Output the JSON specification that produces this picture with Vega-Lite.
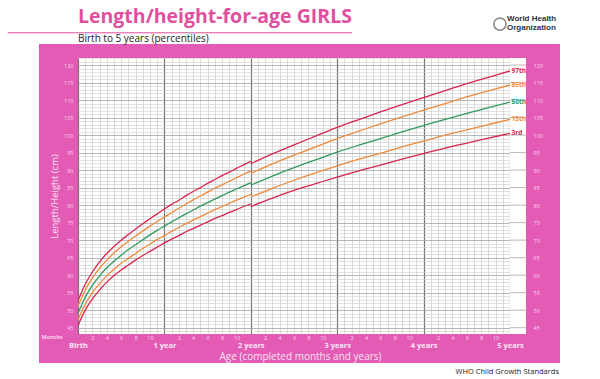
{
  "$schema": "https://vega.github.io/schema/vega-lite/v6.json",
  "autosize": "none",
  "width": 432,
  "height": 276,
  "padding": {"left": 78, "top": 58, "right": 90, "bottom": 45},
  "background": "#e35bb5",
  "config": {
    "view": {"fill": "white", "stroke": null},
    "font": "Open Sans",
    "axis": {"labelFont": "Open Sans", "titleFont": "Open Sans"}
  },
  "title": {
    "text": "Length/height-for-age GIRLS",
    "subtitle": "Birth to 5 years (percentiles)",
    "anchor": "start",
    "frame": "group",
    "offset": -50,
    "font": "Open Sans",
    "fontSize": 19.5,
    "fontWeight": "bold",
    "color": "#e0509e",
    "subtitleFont": "Open Sans",
    "subtitleFontSize": 10,
    "subtitleColor": "#222222",
    "subtitlePadding": 6
  },
  "datasets": {
    "curves": [
      {"m":0,"s":"L","p":"3rd","v":45.6},{"m":0,"s":"L","p":"15th","v":47.2},{"m":0,"s":"L","p":"50th","v":49.1},{"m":0,"s":"L","p":"85th","v":51.1},{"m":0,"s":"L","p":"97th","v":52.7},
      {"m":1,"s":"L","p":"3rd","v":50.0},{"m":1,"s":"L","p":"15th","v":51.7},{"m":1,"s":"L","p":"50th","v":53.7},{"m":1,"s":"L","p":"85th","v":55.7},{"m":1,"s":"L","p":"97th","v":57.4},
      {"m":2,"s":"L","p":"3rd","v":53.2},{"m":2,"s":"L","p":"15th","v":55.0},{"m":2,"s":"L","p":"50th","v":57.1},{"m":2,"s":"L","p":"85th","v":59.2},{"m":2,"s":"L","p":"97th","v":60.9},
      {"m":3,"s":"L","p":"3rd","v":55.8},{"m":3,"s":"L","p":"15th","v":57.6},{"m":3,"s":"L","p":"50th","v":59.8},{"m":3,"s":"L","p":"85th","v":62.0},{"m":3,"s":"L","p":"97th","v":63.8},
      {"m":4,"s":"L","p":"3rd","v":58.0},{"m":4,"s":"L","p":"15th","v":59.8},{"m":4,"s":"L","p":"50th","v":62.1},{"m":4,"s":"L","p":"85th","v":64.3},{"m":4,"s":"L","p":"97th","v":66.2},
      {"m":5,"s":"L","p":"3rd","v":59.9},{"m":5,"s":"L","p":"15th","v":61.7},{"m":5,"s":"L","p":"50th","v":64.0},{"m":5,"s":"L","p":"85th","v":66.3},{"m":5,"s":"L","p":"97th","v":68.2},
      {"m":6,"s":"L","p":"3rd","v":61.5},{"m":6,"s":"L","p":"15th","v":63.4},{"m":6,"s":"L","p":"50th","v":65.7},{"m":6,"s":"L","p":"85th","v":68.1},{"m":6,"s":"L","p":"97th","v":70.0},
      {"m":7,"s":"L","p":"3rd","v":62.9},{"m":7,"s":"L","p":"15th","v":64.8},{"m":7,"s":"L","p":"50th","v":67.3},{"m":7,"s":"L","p":"85th","v":69.7},{"m":7,"s":"L","p":"97th","v":71.6},
      {"m":8,"s":"L","p":"3rd","v":64.3},{"m":8,"s":"L","p":"15th","v":66.2},{"m":8,"s":"L","p":"50th","v":68.7},{"m":8,"s":"L","p":"85th","v":71.2},{"m":8,"s":"L","p":"97th","v":73.2},
      {"m":9,"s":"L","p":"3rd","v":65.6},{"m":9,"s":"L","p":"15th","v":67.6},{"m":9,"s":"L","p":"50th","v":70.1},{"m":9,"s":"L","p":"85th","v":72.6},{"m":9,"s":"L","p":"97th","v":74.7},
      {"m":10,"s":"L","p":"3rd","v":66.8},{"m":10,"s":"L","p":"15th","v":68.9},{"m":10,"s":"L","p":"50th","v":71.5},{"m":10,"s":"L","p":"85th","v":74.0},{"m":10,"s":"L","p":"97th","v":76.1},
      {"m":11,"s":"L","p":"3rd","v":68.0},{"m":11,"s":"L","p":"15th","v":70.2},{"m":11,"s":"L","p":"50th","v":72.8},{"m":11,"s":"L","p":"85th","v":75.3},{"m":11,"s":"L","p":"97th","v":77.5},
      {"m":12,"s":"L","p":"3rd","v":69.2},{"m":12,"s":"L","p":"15th","v":71.3},{"m":12,"s":"L","p":"50th","v":74.0},{"m":12,"s":"L","p":"85th","v":76.6},{"m":12,"s":"L","p":"97th","v":78.9},
      {"m":13,"s":"L","p":"3rd","v":70.3},{"m":13,"s":"L","p":"15th","v":72.5},{"m":13,"s":"L","p":"50th","v":75.2},{"m":13,"s":"L","p":"85th","v":77.8},{"m":13,"s":"L","p":"97th","v":80.2},
      {"m":14,"s":"L","p":"3rd","v":71.3},{"m":14,"s":"L","p":"15th","v":73.6},{"m":14,"s":"L","p":"50th","v":76.4},{"m":14,"s":"L","p":"85th","v":79.1},{"m":14,"s":"L","p":"97th","v":81.4},
      {"m":15,"s":"L","p":"3rd","v":72.4},{"m":15,"s":"L","p":"15th","v":74.7},{"m":15,"s":"L","p":"50th","v":77.5},{"m":15,"s":"L","p":"85th","v":80.3},{"m":15,"s":"L","p":"97th","v":82.7},
      {"m":16,"s":"L","p":"3rd","v":73.3},{"m":16,"s":"L","p":"15th","v":75.7},{"m":16,"s":"L","p":"50th","v":78.6},{"m":16,"s":"L","p":"85th","v":81.5},{"m":16,"s":"L","p":"97th","v":83.9},
      {"m":17,"s":"L","p":"3rd","v":74.3},{"m":17,"s":"L","p":"15th","v":76.7},{"m":17,"s":"L","p":"50th","v":79.7},{"m":17,"s":"L","p":"85th","v":82.6},{"m":17,"s":"L","p":"97th","v":85.0},
      {"m":18,"s":"L","p":"3rd","v":75.2},{"m":18,"s":"L","p":"15th","v":77.7},{"m":18,"s":"L","p":"50th","v":80.7},{"m":18,"s":"L","p":"85th","v":83.7},{"m":18,"s":"L","p":"97th","v":86.2},
      {"m":19,"s":"L","p":"3rd","v":76.2},{"m":19,"s":"L","p":"15th","v":78.7},{"m":19,"s":"L","p":"50th","v":81.7},{"m":19,"s":"L","p":"85th","v":84.8},{"m":19,"s":"L","p":"97th","v":87.3},
      {"m":20,"s":"L","p":"3rd","v":77.0},{"m":20,"s":"L","p":"15th","v":79.6},{"m":20,"s":"L","p":"50th","v":82.7},{"m":20,"s":"L","p":"85th","v":85.8},{"m":20,"s":"L","p":"97th","v":88.4},
      {"m":21,"s":"L","p":"3rd","v":77.9},{"m":21,"s":"L","p":"15th","v":80.5},{"m":21,"s":"L","p":"50th","v":83.7},{"m":21,"s":"L","p":"85th","v":86.8},{"m":21,"s":"L","p":"97th","v":89.4},
      {"m":22,"s":"L","p":"3rd","v":78.7},{"m":22,"s":"L","p":"15th","v":81.4},{"m":22,"s":"L","p":"50th","v":84.6},{"m":22,"s":"L","p":"85th","v":87.8},{"m":22,"s":"L","p":"97th","v":90.5},
      {"m":23,"s":"L","p":"3rd","v":79.6},{"m":23,"s":"L","p":"15th","v":82.2},{"m":23,"s":"L","p":"50th","v":85.5},{"m":23,"s":"L","p":"85th","v":88.8},{"m":23,"s":"L","p":"97th","v":91.5},
      {"m":24,"s":"L","p":"3rd","v":80.3},{"m":24,"s":"L","p":"15th","v":83.1},{"m":24,"s":"L","p":"50th","v":86.4},{"m":24,"s":"L","p":"85th","v":89.7},{"m":24,"s":"L","p":"97th","v":92.5},
      {"m":24,"s":"H","p":"3rd","v":79.6},{"m":24,"s":"H","p":"15th","v":82.3},{"m":24,"s":"H","p":"50th","v":85.7},{"m":24,"s":"H","p":"85th","v":89.1},{"m":24,"s":"H","p":"97th","v":91.8},
      {"m":27,"s":"H","p":"3rd","v":82.0},{"m":27,"s":"H","p":"15th","v":84.8},{"m":27,"s":"H","p":"50th","v":88.3},{"m":27,"s":"H","p":"85th","v":91.8},{"m":27,"s":"H","p":"97th","v":94.6},
      {"m":30,"s":"H","p":"3rd","v":84.2},{"m":30,"s":"H","p":"15th","v":87.1},{"m":30,"s":"H","p":"50th","v":90.7},{"m":30,"s":"H","p":"85th","v":94.3},{"m":30,"s":"H","p":"97th","v":97.2},
      {"m":33,"s":"H","p":"3rd","v":86.1},{"m":33,"s":"H","p":"15th","v":89.2},{"m":33,"s":"H","p":"50th","v":92.9},{"m":33,"s":"H","p":"85th","v":96.6},{"m":33,"s":"H","p":"97th","v":99.7},
      {"m":36,"s":"H","p":"3rd","v":88.0},{"m":36,"s":"H","p":"15th","v":91.2},{"m":36,"s":"H","p":"50th","v":95.1},{"m":36,"s":"H","p":"85th","v":99.0},{"m":36,"s":"H","p":"97th","v":102.2},
      {"m":39,"s":"H","p":"3rd","v":89.8},{"m":39,"s":"H","p":"15th","v":93.1},{"m":39,"s":"H","p":"50th","v":97.1},{"m":39,"s":"H","p":"85th","v":101.1},{"m":39,"s":"H","p":"97th","v":104.4},
      {"m":42,"s":"H","p":"3rd","v":91.4},{"m":42,"s":"H","p":"15th","v":94.8},{"m":42,"s":"H","p":"50th","v":99.0},{"m":42,"s":"H","p":"85th","v":103.2},{"m":42,"s":"H","p":"97th","v":106.6},
      {"m":45,"s":"H","p":"3rd","v":93.1},{"m":45,"s":"H","p":"15th","v":96.6},{"m":45,"s":"H","p":"50th","v":100.9},{"m":45,"s":"H","p":"85th","v":105.2},{"m":45,"s":"H","p":"97th","v":108.7},
      {"m":48,"s":"H","p":"3rd","v":94.7},{"m":48,"s":"H","p":"15th","v":98.3},{"m":48,"s":"H","p":"50th","v":102.7},{"m":48,"s":"H","p":"85th","v":107.1},{"m":48,"s":"H","p":"97th","v":110.7},
      {"m":51,"s":"H","p":"3rd","v":96.3},{"m":51,"s":"H","p":"15th","v":100.0},{"m":51,"s":"H","p":"50th","v":104.5},{"m":51,"s":"H","p":"85th","v":109.0},{"m":51,"s":"H","p":"97th","v":112.7},
      {"m":54,"s":"H","p":"3rd","v":97.7},{"m":54,"s":"H","p":"15th","v":101.5},{"m":54,"s":"H","p":"50th","v":106.2},{"m":54,"s":"H","p":"85th","v":110.9},{"m":54,"s":"H","p":"97th","v":114.7},
      {"m":57,"s":"H","p":"3rd","v":99.1},{"m":57,"s":"H","p":"15th","v":103.0},{"m":57,"s":"H","p":"50th","v":107.8},{"m":57,"s":"H","p":"85th","v":112.6},{"m":57,"s":"H","p":"97th","v":116.5},
      {"m":60,"s":"H","p":"3rd","v":100.5},{"m":60,"s":"H","p":"15th","v":104.5},{"m":60,"s":"H","p":"50th","v":109.4},{"m":60,"s":"H","p":"85th","v":114.3},{"m":60,"s":"H","p":"97th","v":118.3}
    ],
    "stripLines": [
      {"cm":45},{"cm":50},{"cm":55},{"cm":60},{"cm":65},{"cm":70},{"cm":75},{"cm":80},
      {"cm":85},{"cm":90},{"cm":95},{"cm":100},{"cm":105},{"cm":110},{"cm":115},{"cm":120}
    ]
  },
  "layer": [
    {
      "data": {"values": [{}]},
      "mark": {"type": "rect", "color": "white"},
      "encoding": {
        "x": {"datum": -12, "type": "quantitative", "axis": null},
        "x2": {"datum": 75},
        "y": {"datum": 126.0, "type": "quantitative", "axis": null},
        "y2": {"datum": 140}
      }
    },
    {
      "data": {"values": [{}]},
      "mark": {"type": "rect", "color": "white"},
      "encoding": {
        "x": {"datum": -12, "type": "quantitative", "axis": null},
        "x2": {"datum": 75},
        "y": {"datum": 28, "type": "quantitative", "axis": null},
        "y2": {"datum": 34.92}
      }
    },
    {
      "data": {"values": [{}]},
      "mark": {"type": "rect", "color": "white"},
      "encoding": {
        "x": {"datum": -12, "type": "quantitative", "axis": null},
        "x2": {"datum": -5.42},
        "y": {"datum": 34.92, "type": "quantitative", "axis": null},
        "y2": {"datum": 126.0}
      }
    },
    {
      "data": {"values": [{}]},
      "mark": {"type": "rect", "color": "white"},
      "encoding": {
        "x": {"datum": 66.94, "type": "quantitative", "axis": null},
        "x2": {"datum": 75},
        "y": {"datum": 34.92, "type": "quantitative", "axis": null},
        "y2": {"datum": 126.0}
      }
    },
    {
      "data": {"values": [{}]},
      "mark": {"type": "rect", "color": "white"},
      "encoding": {
        "x": {"datum": 60, "type": "quantitative", "axis": null},
        "x2": {"datum": 62.22},
        "y": {"datum": 43.2, "type": "quantitative", "axis": null},
        "y2": {"datum": 122}
      }
    },
    {
      "data": {"name": "stripLines"},
      "mark": {"type": "rule", "color": "#a8a8a8", "strokeWidth": 0.8},
      "encoding": {
        "x": {"datum": 60, "type": "quantitative", "axis": null},
        "x2": {"datum": 62.22},
        "y": {"field": "cm", "type": "quantitative", "axis": null}
      }
    },
    {
      "data": {"name": "curves"},
      "mark": {"type": "line", "strokeWidth": 1.3, "interpolate": "monotone"},
      "encoding": {
        "x": {
          "field": "m", "type": "quantitative",
          "scale": {"domain": [0, 60], "nice": false, "zero": false},
          "axis": {
            "orient": "bottom",
            "values": [0,1,2,3,4,5,6,7,8,9,10,11,12,13,14,15,16,17,18,19,20,21,22,23,24,25,26,27,28,29,30,31,32,33,34,35,36,37,38,39,40,41,42,43,44,45,46,47,48,49,50,51,52,53,54,55,56,57,58,59,60],
            "labelExpr": "(datum.value % 12 !== 0 && datum.value % 2 === 0) ? '' + (datum.value % 12) : ''",
            "labelOverlap": false,
            "labelFlush": false,
            "labelFontSize": 5.5,
            "labelColor": "#fbd3ec",
            "labelPadding": 1,
            "ticks": false,
            "tickSize": 0,
            "domain": false,
            "grid": true,
            "gridColor": {"condition": {"test": "datum.value % 12 === 0", "value": "#707070"}, "value": "#c2c2c2"},
            "gridWidth": {"condition": {"test": "datum.value % 12 === 0", "value": 1.2}, "value": 0.6},
            "title": null
          }
        },
        "y": {
          "field": "v", "type": "quantitative",
          "scale": {"domain": [43.2, 122], "nice": false, "zero": false},
          "axis": {
            "orient": "left",
            "values": [44,45,46,47,48,49,50,51,52,53,54,55,56,57,58,59,60,61,62,63,64,65,66,67,68,69,70,71,72,73,74,75,76,77,78,79,80,81,82,83,84,85,86,87,88,89,90,91,92,93,94,95,96,97,98,99,100,101,102,103,104,105,106,107,108,109,110,111,112,113,114,115,116,117,118,119,120,121,122],
            "labelExpr": "datum.value % 5 === 0 ? datum.label : ''",
            "labelOverlap": false,
            "labelFlush": false,
            "labelFontSize": 5.5,
            "labelColor": "#fbd3ec",
            "labelPadding": 5,
            "ticks": false,
            "tickSize": 0,
            "domain": false,
            "grid": true,
            "gridColor": {"condition": {"test": "datum.value % 5 === 0", "value": "#a6a6a6"}, "value": "#cccccc"},
            "gridWidth": {"condition": {"test": "datum.value % 5 === 0", "value": 0.8}, "value": 0.6},
            "title": "Length/Height (cm)",
            "titleFontSize": 9.5,
            "titleFontWeight": "normal",
            "titleColor": "#fde2f2",
            "titlePadding": 4
          }
        },
        "color": {
          "field": "p", "type": "nominal",
          "scale": {"domain": ["97th","85th","50th","15th","3rd"], "range": ["#d9264f","#f08a3a","#2e9a5c","#f08a3a","#d9264f"]},
          "legend": null
        },
        "detail": {"field": "s"}
      }
    },
    {
      "data": {"name": "curves"},
      "transform": [{"filter": "datum.s === 'H' && datum.m === 60"}],
      "mark": {"type": "text", "align": "left", "baseline": "middle", "dx": 1.5, "fontSize": 6.5, "fontWeight": "bold"},
      "encoding": {
        "x": {
          "field": "m", "type": "quantitative",
          "axis": {
            "orient": "bottom",
            "values": [0,12,24,36,48,60],
            "labelExpr": "datum.value === 0 ? 'Birth' : (datum.value === 12 ? '1 year' : (datum.value / 12) + ' years')",
            "labelOverlap": false,
            "labelFlush": false,
            "labelFontSize": 7.5,
            "labelFontWeight": "bold",
            "labelColor": "#fde8f5",
            "labelPadding": 7,
            "ticks": false,
            "tickSize": 0,
            "domain": false,
            "grid": false,
            "title": "Age (completed months and years)",
            "titleX": 222,
            "titleFontSize": 10,
            "titleFontWeight": "normal",
            "titleColor": "#fde2f2",
            "titlePadding": 3
          }
        },
        "y": {
          "field": "v", "type": "quantitative",
          "axis": {
            "orient": "right",
            "values": [45,50,55,60,65,70,75,80,85,90,95,100,105,110,115,120],
            "labelOverlap": false,
            "labelFlush": false,
            "labelFontSize": 5.5,
            "labelColor": "#fbd3ec",
            "labelPadding": 23,
            "ticks": false,
            "tickSize": 0,
            "domain": false,
            "grid": false,
            "title": null
          }
        },
        "text": {"field": "p"},
        "color": {"field": "p", "type": "nominal", "legend": null}
      }
    },
    {
      "data": {"values": [{"t": "Months"}]},
      "mark": {"type": "text", "align": "center", "baseline": "middle", "fontSize": 5.5, "fontWeight": "bold", "color": "#fbd3ec"},
      "encoding": {
        "x": {"datum": -3.6, "type": "quantitative", "axis": null},
        "y": {"datum": 42.3, "type": "quantitative", "axis": null},
        "text": {"field": "t"}
      }
    },
    {
      "data": {"values": [{}]},
      "mark": {"type": "rule", "color": "#e0509e", "strokeWidth": 1},
      "encoding": {
        "x": {"datum": -9.76, "type": "quantitative", "axis": null},
        "x2": {"datum": 38.06},
        "y": {"datum": 129.2, "type": "quantitative", "axis": null}
      }
    },
    {
      "data": {"values": [{}]},
      "mark": {"type": "point", "shape": "circle", "filled": false, "color": "#555555", "strokeWidth": 1.5, "size": 150},
      "encoding": {
        "x": {"datum": 58.6, "type": "quantitative", "axis": null},
        "y": {"datum": 131.7, "type": "quantitative", "axis": null}
      }
    },
    {
      "data": {"values": [{"t": "World Health", "row": 1}, {"t": "Organization", "row": 2}]},
      "mark": {"type": "text", "align": "left", "baseline": "middle", "font": "Liberation Sans", "fontSize": 8, "fontWeight": "bold", "color": "#333333", "dy": -4.5},
      "encoding": {
        "x": {"datum": 59.58, "type": "quantitative", "axis": null},
        "y": {"datum": 131.8, "type": "quantitative", "axis": null},
        "yOffset": {"field": "row", "type": "quantitative", "scale": {"domain": [1, 2], "range": [0, 9]}},
        "text": {"field": "t"}
      }
    },
    {
      "data": {"values": [{"t": "WHO Child Growth Standards"}]},
      "mark": {"type": "text", "align": "right", "baseline": "middle", "fontSize": 7.5, "color": "#222222"},
      "encoding": {
        "x": {"datum": 66.8, "type": "quantitative", "axis": null},
        "y": {"datum": 32.47, "type": "quantitative", "axis": null},
        "text": {"field": "t"}
      }
    }
  ],
  "resolve": {"axis": {"x": "independent", "y": "independent"}}
}
